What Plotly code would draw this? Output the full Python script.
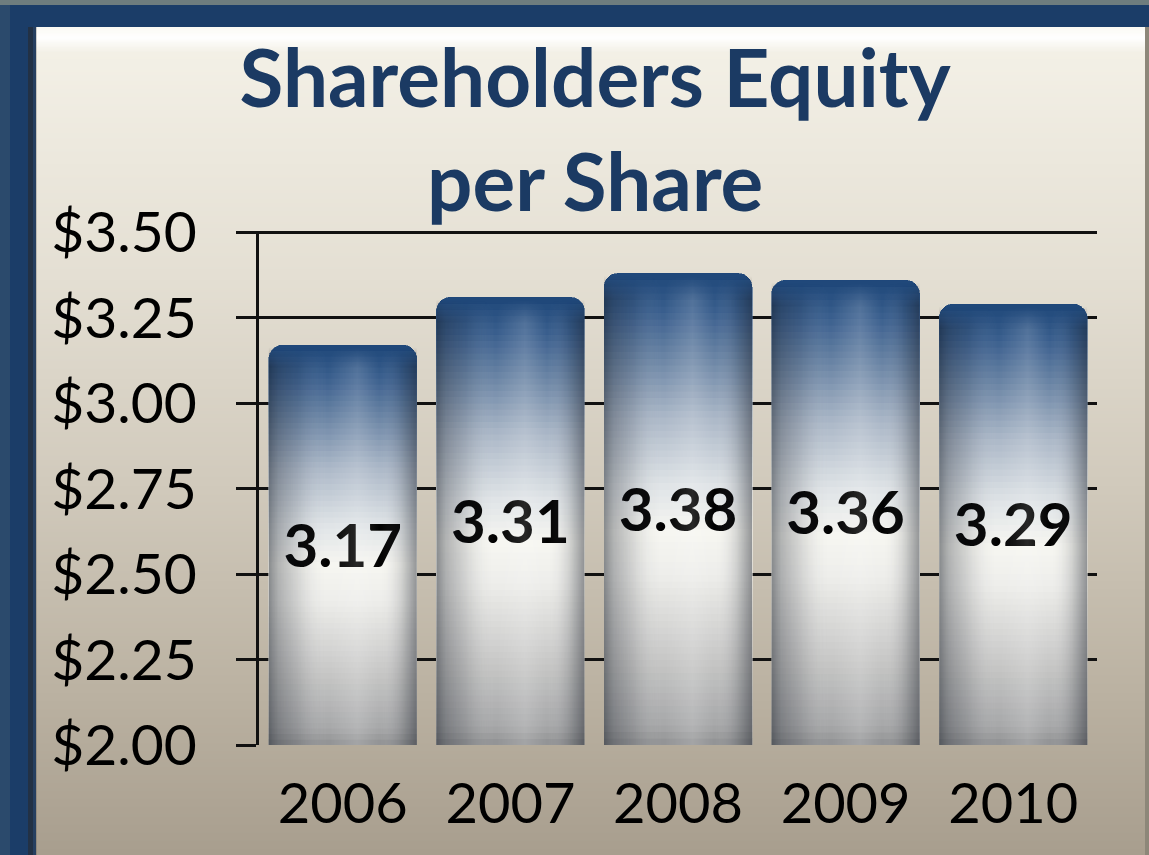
import base64, struct, zlib
import plotly.graph_objects as go

# ---------------- data ----------------
years = ["2006", "2007", "2008", "2009", "2010"]
equity = [3.17, 3.31, 3.38, 3.36, 3.29]
y_min, y_max, y_step = 2.0, 3.5, 0.25
y_ticks = [2.00, 2.25, 2.50, 2.75, 3.00, 3.25, 3.50]
y_ticktext = ["$2.00", "$2.25", "$2.50", "$2.75", "$3.00", "$3.25", "$3.50"]
title_text = "Shareholders Equity<br>per Share"

# ---------------- style ----------------
W, H = 1149, 855
ML, MR, MT, MB = 259, 52, 231, 110
PW, PH = W - ML - MR, H - MT - MB
FONT = "Lato"
NAVY = "#1b3a63"
BARGAP = 0.117
CORNER = 14


def hex2rgb(h):
    h = h.lstrip("#")
    return tuple(int(h[i:i + 2], 16) for i in (0, 2, 4))


def interp(stops, t):
    for (t0, c0), (t1, c1) in zip(stops, stops[1:]):
        if t0 <= t <= t1:
            f = 0 if t1 == t0 else (t - t0) / (t1 - t0)
            return tuple(c0[i] + (c1[i] - c0[i]) * f for i in range(len(c0)))
    return stops[-1][1]


def png_uri(width, height, pix):
    raw = b"".join(b"\x00" + bytes(max(0, min(255, round(v))) for x in range(width) for v in pix(x, y))
                   for y in range(height))

    def chunk(tag, data):
        return struct.pack(">I", len(data)) + tag + data + struct.pack(">I", zlib.crc32(tag + data) & 0xffffffff)

    png = (b"\x89PNG\r\n\x1a\n"
           + chunk(b"IHDR", struct.pack(">IIBBBBB", width, height, 8, 6, 0, 0, 0))
           + chunk(b"IDAT", zlib.compress(raw, 9))
           + chunk(b"IEND", b""))
    return "data:image/png;base64," + base64.b64encode(png).decode()


def px(x):
    return (x - ML) / PW


def py(y):
    return (H - MB - y) / PH


def hs(stops):
    return [(t, hex2rgb(c)) for t, c in stops]


panel_stops = hs([(0.0, "#fbfaf4"), (0.012, "#ffffff"), (0.03, "#f3f0e6"), (0.3, "#e4dfd3"),
                  (0.55, "#d1cabc"), (0.8, "#bbb2a2"), (1.0, "#a89e8e")])
NROW = 512
panel_img = png_uri(1, NROW, lambda x, y: interp(panel_stops, y / (NROW - 1)) + (255,))

bar_stops = hs([(0.0, "#8f9092"), (0.04, "#a6a7a8"), (0.2, "#cbcbca"), (0.36, "#ededea"),
                (0.45, "#f6f6f1"), (0.55, "#e0e4e7"), (0.7, "#a9b6c6"), (0.82, "#6b85a5"),
                (0.92, "#3a5f8e"), (1.0, "#1d4678")])

# horizontal cylinder shading overlay (RGBA), alpha fades in near the top
shade_stops = [(0.0, (20, 25, 35, 120)), (0.06, (30, 35, 45, 80)), (0.2, (40, 45, 55, 35)),
               (0.4, (255, 255, 255, 0)), (0.6, (255, 255, 255, 40)), (0.75, (255, 255, 255, 0)),
               (0.9, (30, 35, 45, 40)), (1.0, (20, 25, 35, 110))]
NCOL, NR = 128, 100


def shade_pix(x, y):
    r, g, b, a = interp(shade_stops, x / (NCOL - 1))
    fade = min(1.0, y / 5.0)
    return (r, g, b, a * fade)


shade_img = png_uri(NCOL, NR, shade_pix)

fig = go.Figure()

K = 72
c0 = "rgb(%d,%d,%d)" % tuple(round(v) for v in interp(bar_stops, 0))
fig.add_trace(go.Bar(x=years, y=[y_min] * len(years),
                     marker=dict(color=c0, line=dict(width=0)),
                     hoverinfo="skip", showlegend=False))
for k in range(K):
    c = "rgb(%d,%d,%d)" % tuple(round(v) for v in interp(bar_stops, (k + 0.5) / K))
    fig.add_trace(go.Bar(x=years, y=[(v - y_min) / K for v in equity],
                         marker=dict(color=c, line=dict(width=0.6, color=c)),
                         hoverinfo="skip", showlegend=False))

fig.add_trace(go.Scatter(x=years, y=[(v + y_min) / 2 - 0.02 for v in equity],
                         text=["%.2f" % v for v in equity], mode="text",
                         textfont=dict(family=FONT, size=60, color="#000000", weight="bold"),
                         hoverinfo="skip", showlegend=False))

images = [dict(source=panel_img, xref="paper", yref="paper", x=px(36), y=py(27),
               sizex=px(1145) - px(36), sizey=py(27) - py(H), sizing="stretch",
               xanchor="left", yanchor="top", layer="below")]
for i, v in enumerate(equity):
    images.append(dict(source=shade_img, xref="x", yref="y", x=i - (1 - BARGAP) / 2,
                       y=v, sizex=1 - BARGAP, sizey=v - y_min,
                       sizing="stretch", xanchor="left", yanchor="top", layer="above"))

shapes = [
    dict(type="rect", xref="paper", yref="paper", x0=px(0), x1=px(W), y0=py(0), y1=py(5),
         fillcolor="#6e7d7e", line=dict(width=0), layer="below"),
    dict(type="rect", xref="paper", yref="paper", x0=px(0), x1=px(10), y0=py(5), y1=py(H),
         fillcolor="#2b4a6c", line=dict(width=0), layer="below"),
    dict(type="rect", xref="paper", yref="paper", x0=px(28), x1=px(33), y0=py(27), y1=py(H),
         fillcolor="rgba(40,40,40,0.55)", line=dict(width=0), layer="below"),
    dict(type="rect", xref="paper", yref="paper", x0=px(33), x1=px(37), y0=py(27), y1=py(H),
         fillcolor="rgba(70,70,70,0.25)", line=dict(width=0), layer="below"),
    dict(type="rect", xref="paper", yref="paper", x0=px(1145), x1=px(W), y0=py(27), y1=py(H),
         fillcolor="#8d8779", line=dict(width=0), layer="below"),
]

fig.update_layout(
    width=W, height=H,
    margin=dict(l=ML, r=MR, t=MT, b=MB, pad=0),
    paper_bgcolor="#1b3d68",
    plot_bgcolor="rgba(0,0,0,0)",
    barmode="stack", bargap=BARGAP, barcornerradius=CORNER,
    showlegend=False, hovermode=False,
    title=dict(text=title_text, xref="container", yref="container", x=0.518, xanchor="center",
               y=1 - 107 / H, yanchor="top",
               font=dict(family=FONT, size=80, color=NAVY, weight="bold")),
    images=images,
    shapes=shapes,
    xaxis=dict(showgrid=False, showline=False, ticks="", zeroline=False,
               tickfont=dict(family=FONT, size=56, color="#000000"), ticklabelstandoff=21),
    yaxis=dict(range=[y_min, y_max + 0.004], tickmode="array", tickvals=y_ticks, ticktext=y_ticktext,
               showgrid=True, gridcolor="#111111", gridwidth=2.5,
               showline=True, linecolor="#111111", linewidth=2.5,
               ticks="outside", ticklen=20, tickwidth=2.5, tickcolor="#111111",
               zeroline=False, tickfont=dict(family=FONT, size=57, color="#000000"),
               ticklabelstandoff=28),
)

fig.write_html("out.html", config={"displayModeBar": False},
               post_script="document.body.style.margin='0';")
